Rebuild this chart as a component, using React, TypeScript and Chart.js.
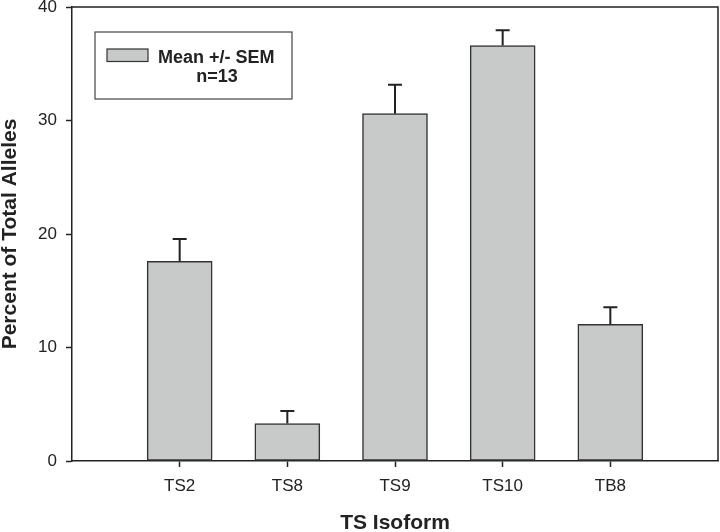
import React, { useEffect, useRef } from "react";
import { Chart, registerables } from "chart.js";

Chart.register(...registerables);

const categories = ["TS2", "TS8", "TS9", "TS10", "TB8"];
const means = [17.6, 3.3, 30.6, 36.6, 12.05];
const sems = [1.95, 1.1, 2.55, 1.35, 1.5];
const yTicks = [0, 10, 20, 30, 40];
const legendLines = ["Mean +/- SEM", "n=13"];

const FILL = "#c8c9c9";
const INK = "#222222";
const FONT = "'Liberation Sans', Arial, sans-serif";

const errorBarPlugin = {
  id: "errorBars",
  afterDatasetsDraw(chart: any) {
    const { ctx } = chart;
    const xs = chart.scales.x;
    const ys = chart.scales.y;
    ctx.save();
    ctx.strokeStyle = INK;
    ctx.lineWidth = 2;
    means.forEach((m, i) => {
      const x = xs.getPixelForValue(i + 1);
      const y0 = ys.getPixelForValue(m);
      const y1 = ys.getPixelForValue(m + sems[i]);
      ctx.beginPath();
      ctx.moveTo(x, y0);
      ctx.lineTo(x, y1);
      ctx.moveTo(x - 7, y1);
      ctx.lineTo(x + 7, y1);
      ctx.stroke();
    });
    ctx.restore();
  },
};

const framePlugin = {
  id: "frame",
  afterDraw(chart: any) {
    const { ctx, chartArea } = chart;
    ctx.save();
    ctx.strokeStyle = INK;
    ctx.lineWidth = 1.5;
    ctx.beginPath();
    ctx.moveTo(chartArea.left, chartArea.top);
    ctx.lineTo(chartArea.right, chartArea.top);
    ctx.lineTo(chartArea.right, chartArea.bottom);
    ctx.stroke();

    // legend box
    const bx = 95, by = 32, bw = 197, bh = 67;
    ctx.fillStyle = "#ffffff";
    ctx.fillRect(bx, by, bw, bh);
    ctx.strokeStyle = "#444444";
    ctx.lineWidth = 1.2;
    ctx.strokeRect(bx, by, bw, bh);
    ctx.fillStyle = FILL;
    ctx.fillRect(107, 49, 41, 12.5);
    ctx.strokeStyle = "#333333";
    ctx.lineWidth = 1.2;
    ctx.strokeRect(107, 49, 41, 12.5);
    ctx.fillStyle = INK;
    ctx.font = `bold 18px ${FONT}`;
    ctx.textBaseline = "alphabetic";
    ctx.textAlign = "left";
    ctx.fillText(legendLines[0], 158, 63);
    ctx.textAlign = "center";
    ctx.fillText(legendLines[1], 217, 82);
    ctx.restore();
  },
};

export default function App() {
  const ref = useRef<HTMLCanvasElement | null>(null);

  useEffect(() => {
    if (!ref.current) return;
    const labels = ["", ...categories, ""];
    const data = [null, ...means, null];
    const chart = new Chart(ref.current, {
      type: "bar",
      data: {
        labels,
        datasets: [
          {
            label: "Mean +/- SEM",
            data,
            backgroundColor: FILL,
            borderColor: "#333333",
            borderWidth: 1.5,
            borderSkipped: false,
            barThickness: 65,
          },
        ],
      },
      options: {
        animation: false,
        responsive: false,
        devicePixelRatio: 1,
        layout: { padding: { top: 7, right: 2, left: 0, bottom: 0 } },
        plugins: {
          legend: { display: false },
          tooltip: { enabled: false },
        },
        scales: {
          x: {
            type: "category",
            offset: false,
            afterFit: (s: any) => {
              s.height = 71;
              s.paddingLeft = 0;
              s.paddingRight = 0;
              s.paddingTop = 0;
              s.paddingBottom = 0;
            },
            grid: {
              offset: false,
              drawOnChartArea: false,
              drawTicks: true,
              tickLength: 6,
              tickWidth: 1.5,
              tickColor: (c: any) =>
                c.index === 0 || c.index === labels.length - 1 ? "rgba(0,0,0,0)" : INK,
            },
            border: { display: true, color: INK, width: 1.5 },
            ticks: {
              color: INK,
              font: { family: FONT, size: 17 },
              padding: 9,
              maxRotation: 0,
              autoSkip: false,
            },
            title: {
              display: true,
              text: "TS Isoform",
              color: INK,
              font: { family: FONT, size: 21, weight: "bold", lineHeight: 0.85 },
              padding: { top: 0, bottom: 0 },
            },
          },
          y: {
            min: 0,
            max: 40,
            afterFit: (s: any) => {
              s.width = 72;
              s.paddingLeft = 0;
              s.paddingRight = 0;
              s.paddingTop = 0;
              s.paddingBottom = 0;
            },
            afterBuildTicks: (s: any) => {
              s.ticks = yTicks.map((v) => ({ value: v }));
            },
            grid: {
              drawOnChartArea: false,
              drawTicks: true,
              tickLength: 6,
              tickWidth: 1.5,
              tickColor: INK,
            },
            border: { display: true, color: INK, width: 1.5 },
            ticks: {
              color: INK,
              font: { family: FONT, size: 17 },
              padding: 9,
            },
            title: {
              display: true,
              text: "Percent of Total Alleles",
              color: INK,
              font: { family: FONT, size: 21, weight: "bold", lineHeight: 1.0 },
              padding: { top: 0, bottom: 0 },
            },
          },
        },
      },
      plugins: [errorBarPlugin, framePlugin],
    });
    return () => chart.destroy();
  }, []);

  return (
    <div style={{ position: "absolute", left: 0, top: 0, width: 720, height: 532, background: "#fff" }}>
      <canvas ref={ref} width={720} height={532} style={{ display: "block", width: 720, height: 532 }} />
    </div>
  );
}
